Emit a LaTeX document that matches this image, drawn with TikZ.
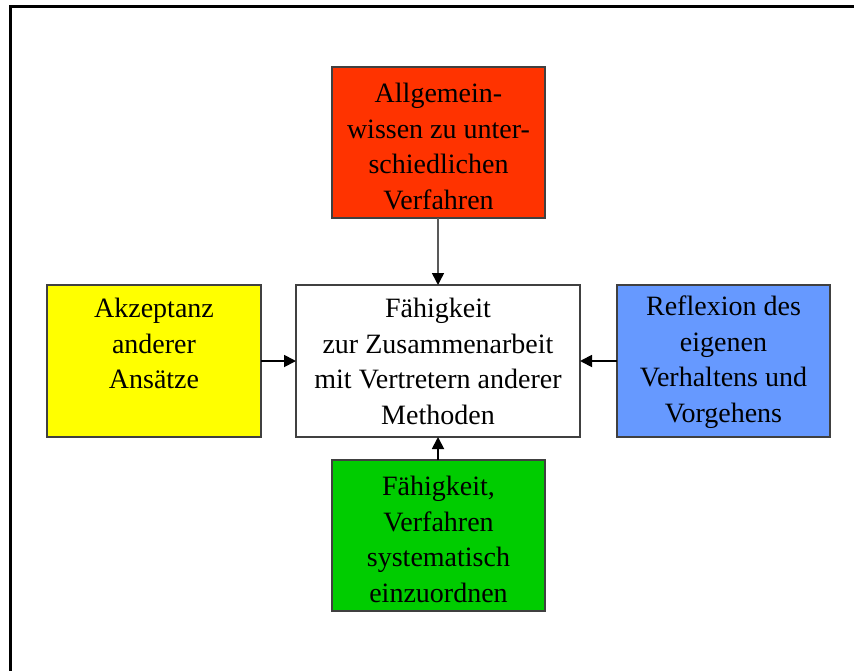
\documentclass[tikz,border=0pt]{standalone}
\usepackage{fontspec}
\setmainfont{Liberation Serif}
\usetikzlibrary{arrows.meta}
\definecolor{cred}{HTML}{FF3300}
\definecolor{cyellow}{HTML}{FFFF00}
\definecolor{cblue}{HTML}{6699FF}
\definecolor{cgreen}{HTML}{00CC00}
\definecolor{cborder}{HTML}{404040}
\tikzset{
  box/.style={draw=cborder, line width=1.3pt, inner sep=0pt},
  lbl/.style={anchor=north, align=center, inner sep=0pt, font=\fontsize{28}{35.5}\selectfont},
  conn/.style={line width=1.8pt, -{Triangle[length=12pt,width=12pt,color=black]}},
}
\begin{document}
\begin{tikzpicture}[x=1pt,y=-1pt]
\useasboundingbox (0,0) rectangle (854,671);
\begin{scope}
\clip (0,0) rectangle (854,671);
\draw[line width=3pt] (10,7) rectangle (880,700);
\end{scope}
% boxes
\draw[box, fill=cred] (332,67) rectangle (545,218);
\coordinate (redb) at (438,218);
\draw[box, fill=cyellow] (47,285) rectangle (261,437);
\coordinate (yelr) at (261,361);
\draw[box, fill=white] (296,285) rectangle (580,437);
\coordinate (cent) at (438,285);
\coordinate (cenb) at (438,437);
\coordinate (cenl) at (296,361);
\coordinate (cenr) at (580,361);
\draw[box, fill=cblue] (617,285) rectangle (830,437);
\coordinate (blul) at (617,361);
\draw[box, fill=cgreen] (332,460) rectangle (545,611);
\coordinate (grnt) at (438,460);
% labels
\node[lbl] (tred) at (438.5,83) {Allgemein-\\wissen zu unter-\\schiedlichen\\Verfahren};
\node[lbl] (tyel) at (154,298) {Akzeptanz\\anderer\\Ansätze};
\node[lbl] (tcen) at (438,298) {Fähigkeit\\zur Zusammenarbeit\\mit Vertretern anderer\\Methoden};
\node[lbl] (tblu) at (723.5,296) {Reflexion des\\eigenen\\Verhaltens und\\Vorgehens};
\node[lbl] (tgrn) at (438.5,476) {Fähigkeit,\\Verfahren\\systematisch\\einzuordnen};
% connectors
\draw[conn, draw=gray!70!black, line width=1.5pt] (redb) -- (cent);
\draw[conn] (yelr) -- (cenl);
\draw[conn] (blul) -- (cenr);
\draw[conn] (grnt) -- (cenb);
\end{tikzpicture}
\end{document}
